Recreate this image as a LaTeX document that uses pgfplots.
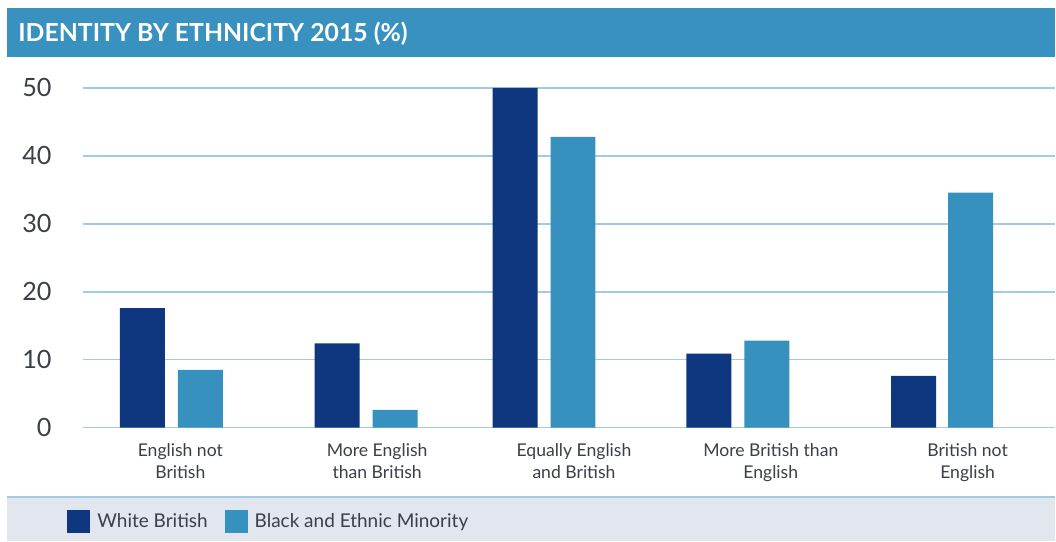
\documentclass[border=0pt]{standalone}
\usepackage{pgfplots}
\pgfplotsset{compat=1.18}
\usepackage{fontspec}
\setmainfont{Lato}
\definecolor{wb}{HTML}{0E3780}
\definecolor{bem}{HTML}{3691BE}
\definecolor{band}{HTML}{3891BE}
\definecolor{gridc}{HTML}{A3CCE2}
\definecolor{legbg}{HTML}{E1E6EF}
\definecolor{txt}{HTML}{3B3F48}
\begin{document}
\begin{tikzpicture}
\path[fill=white] (0pt,0pt) rectangle (528pt,-271pt);
\fill[band] (3.5pt,-4pt) rectangle (528pt,-28.5pt);
\node[anchor=west, inner sep=0pt, text=white, font=\bfseries\fontsize{12.4}{15}\selectfont] at (9pt,-16.8pt) {IDENTITY BY ETHNICITY 2015 (\%)};
\fill[legbg] (3.5pt,-248.5pt) rectangle (528pt,-271pt);
\draw[gridc, line width=1pt] (3.5pt,-248.5pt) -- (528pt,-248.5pt);
\begin{axis}[
  at={(41.5pt,-214pt)}, anchor=south west,
  scale only axis, width=486.5pt, height=170pt,
  xmin=-0.495, xmax=4.444, ymin=0, ymax=50,
  axis line style={draw=none},
  major tick length=0pt,
  ytick={0,10,20,30,40,50},
  ymajorgrids, grid style={gridc, line width=0.8pt},
  xtick={0,1,2,3,4},
  xticklabels={{English not\\British},{More English\\than British},{Equally English\\and British},{More British than\\English},{British not\\English}},
  xticklabel style={align=center, font=\fontsize{8.8}{11}\selectfont, text=txt, anchor=north, inner sep=0pt, yshift=-8pt},
  yticklabel style={font=\fontsize{12.6}{15}\selectfont, text=txt, anchor=east, inner sep=0pt, xshift=-15.5pt},
  /pgf/number format/assume math mode=true,
  legend columns=2,
  legend style={at={(-0.0164,-0.277)}, anchor=west, draw=none, fill=none, inner sep=0pt,
    font=\fontsize{9.5}{12}\selectfont, text=txt,
    nodes={inner sep=0pt},
    /tikz/every odd column/.append style={column sep=3.5pt},
    /tikz/every even column/.append style={column sep=8.5pt}},
]
\addplot[ybar, bar shift=0pt, bar width=0.2284, fill=wb, draw=none,
  legend image code/.code={\fill[wb] (0pt,-5.75pt) rectangle (11.5pt,5.75pt);}]
  coordinates {(-0.193,17.6) (0.797,12.4) (1.701,50) (2.685,10.9) (3.726,7.6)};
\addlegendentry{White British}
\addplot[ybar, bar shift=0pt, bar width=0.2284, fill=bem, draw=none,
  legend image code/.code={\fill[bem] (0pt,-5.75pt) rectangle (11.5pt,5.75pt);}]
  coordinates {(0.102,8.5) (1.091,2.6) (1.995,42.8) (2.980,12.8) (4.015,34.6)};
\addlegendentry{Black and Ethnic Minority}
\end{axis}
\end{tikzpicture}
\end{document}
